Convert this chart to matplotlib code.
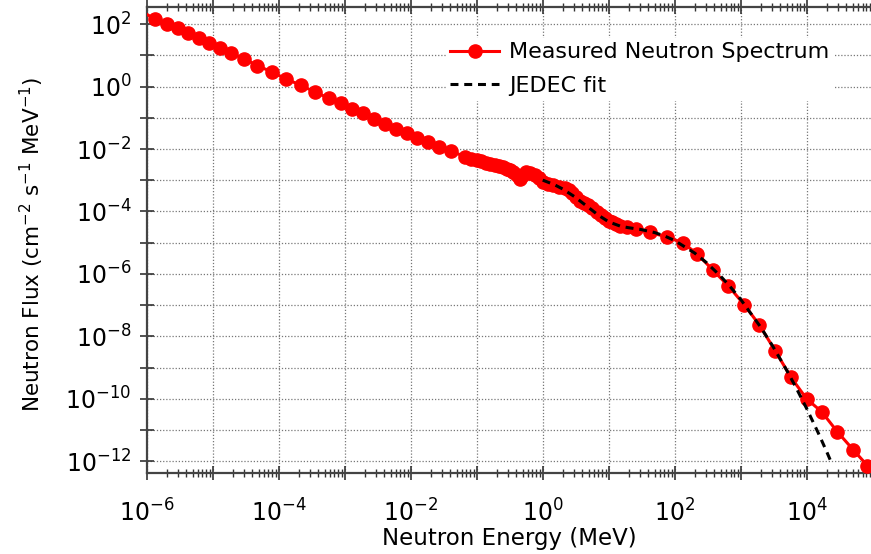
import numpy as np
import matplotlib
matplotlib.use("Agg")
import matplotlib.pyplot as plt
from matplotlib.ticker import FixedLocator, FuncFormatter, LogLocator, NullFormatter

# measured neutron spectrum, log10(E / MeV) and log10(flux)
meas_log_e = [-6.00, -5.874, -5.697, -5.53, -5.37, -5.208, -5.052, -4.889, -4.727,
              -4.526, -4.324, -4.097, -3.889, -3.662, -3.45, -3.242, -3.061, -2.889,
              -2.718, -2.556, -2.389, -2.223, -2.061, -1.90, -1.738, -1.576, -1.385,
              -1.177, -1.086, -0.995, -0.935, -0.859, -0.798, -0.723, -0.662, -0.601,
              -0.541, -0.495, -0.450, -0.389, -0.344, -0.298, -0.253, -0.192, -0.117,
              -0.056, 0.005, 0.080, 0.156, 0.247, 0.338, 0.398, 0.444, 0.505, 0.565,
              0.626, 0.686, 0.747, 0.823, 0.883, 0.944, 1.005, 1.050, 1.111, 1.171,
              1.277, 1.414, 1.626, 1.883, 2.121, 2.342, 2.576, 2.812, 3.055, 3.282,
              3.52, 3.762, 4.0, 4.227, 4.464, 4.706, 4.918]
meas_log_flux = [2.31, 2.16, 2.01, 1.86, 1.71, 1.55, 1.40, 1.24, 1.07,
                 0.89, 0.67, 0.46, 0.24, 0.04, -0.18, -0.37, -0.53, -0.71,
                 -0.86, -1.04, -1.19, -1.35, -1.50, -1.64, -1.78, -1.93, -2.07,
                 -2.246, -2.304, -2.352, -2.39, -2.438, -2.474, -2.512, -2.55, -2.586,
                 -2.63, -2.672, -2.736, -2.832, -2.96, -2.848, -2.752, -2.784, -2.832,
                 -2.944, -3.072, -3.12, -3.152, -3.216, -3.264, -3.312, -3.408, -3.536, -3.68,
                 -3.744, -3.792, -3.888, -4.016, -4.128, -4.218, -4.304, -4.352, -4.416, -4.464,
                 -4.506, -4.57, -4.672, -4.816, -5.0, -5.36, -5.87, -6.38, -6.99, -7.63,
                 -8.45, -9.31, -10.0, -10.41, -11.05, -11.63, -12.13]

# JEDEC reference spectrum
jedec_log_e = [0.0, 0.176, 0.301, 0.477, 0.699, 0.845, 1.0, 1.176, 1.301, 1.477,
               1.699, 1.845, 2.0, 2.301, 2.477, 2.699, 2.845, 3.0, 3.301, 3.477,
               3.699, 3.845, 4.0, 4.176, 4.301, 4.380]
jedec_log_flux = [-2.997, -3.141, -3.278, -3.519, -3.879, -4.121, -4.331, -4.470, -4.519, -4.572,
                  -4.676, -4.782, -4.931, -5.329, -5.629, -6.078, -6.418, -6.815, -7.698, -8.282,
                  -9.089, -9.665, -10.312, -11.093, -11.68, -12.07]

energy = 10.0 ** np.array(meas_log_e)
flux = 10.0 ** np.array(meas_log_flux)
jedec_e = 10.0 ** np.array(jedec_log_e)
jedec_flux = 10.0 ** np.array(jedec_log_flux)

plt.rcParams['font.family'] = ['DejaVu Sans']
plt.rcParams['mathtext.fontset'] = 'dejavusans'

fig = plt.figure(figsize=(8.71, 5.54), dpi=100)
ax = fig.add_axes([0.1684, 0.1457, 0.8336, 0.8422])

ax.plot(energy, flux, color='#ff0000', lw=2.2, marker='o', ms=9.5,
        markevery=slice(1, None), label='Measured Neutron Spectrum', zorder=3)
ax.plot(jedec_e, jedec_flux, color='black', lw=2.2, dashes=(2.6, 1.9),
        label='JEDEC fit', zorder=4)

ax.set_xscale('log')
ax.set_yscale('log')
ax.set_xlim(1e-6, 1e5)
ax.set_ylim(10 ** -12.378, 10 ** 2.554)

def exp_label(v, pos):
    e = int(round(np.log10(v)))
    return r'$10^{%d}$' % e if e % 2 == 0 else ''

ax.xaxis.set_major_locator(FixedLocator([10.0 ** k for k in range(-6, 6)]))
ax.xaxis.set_major_formatter(FuncFormatter(exp_label))
ax.xaxis.set_minor_locator(LogLocator(base=10, subs=np.arange(2, 10), numticks=40))
ax.xaxis.set_minor_formatter(NullFormatter())
ax.yaxis.set_major_locator(FixedLocator([10.0 ** k for k in range(-12, 3)]))
ax.yaxis.set_major_formatter(FuncFormatter(exp_label))
ax.yaxis.set_minor_locator(FixedLocator([]))

ax.tick_params(which='both', direction='inout', top=True, right=False,
               color='#333333', labelsize=17)
ax.tick_params(which='major', length=10, width=1.2)
ax.tick_params(which='minor', length=6, width=1.0)
ax.tick_params(axis='x', pad=14)
ax.tick_params(axis='y', pad=6)

for s in ax.spines.values():
    s.set_color('#444444')
    s.set_linewidth(1.6)

ax.grid(True, which='major', color='#777777', linestyle=(0, (1, 1.5)), lw=0.9)

ax.set_xlabel('Neutron Energy (MeV)', fontsize=16.5, labelpad=0)
ax.set_ylabel(r'Neutron Flux (cm$^{-2}$ s$^{-1}$ MeV$^{-1}$)', fontsize=15.5)
ax.yaxis.set_label_coords(-0.139, 0.49)

leg = ax.legend(loc='upper left', bbox_to_anchor=(0.397, 0.957), fontsize=16,
                frameon=True, framealpha=1, facecolor='white', edgecolor='none',
                handlelength=2.2, borderpad=0.2, labelspacing=0.62, handletextpad=0.45)

fig.savefig('out.png', dpi=100)
plt.close(fig)
